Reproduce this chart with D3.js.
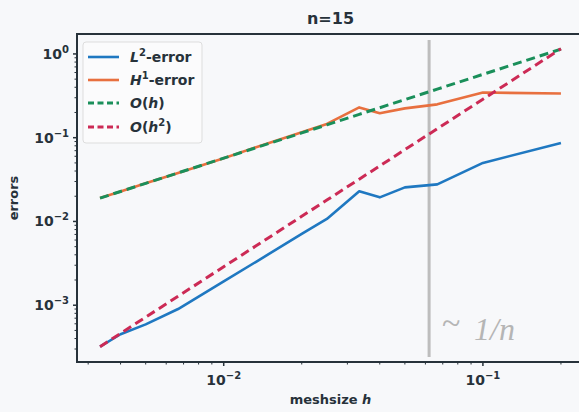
<html lang="en">
<head>
<meta charset="utf-8">
<title>n=15</title>
<script src="https://d3js.org/d3.v7.min.js"></script>
<style>
  body { margin: 0; background: #f7f8fa; }
  text { font-family: "DejaVu Sans", sans-serif; fill: #27323a; }
  .tick-label { font-size: 14px; font-weight: bold; }
  .label { font-size: 13px; font-weight: bold; }
  .legend text { font-size: 14px; font-weight: bold; }
</style>
</head>
<body>
<script>
// mesh sizes h = 1/N
var hValues = [1/300, 1/250, 1/200, 1/150, 1/100, 1/75, 1/50, 1/40, 1/30, 1/25, 1/20, 1/15, 1/10, 1/5];
var l2Error = [3.2e-4, 4.5e-4, 5.9e-4, 9.0e-4, 1.93e-3, 3.3e-3, 7.1e-3, 0.0107, 0.0229, 0.0194, 0.0255, 0.0277, 0.050, 0.0865];
var h1Error = [0.019, 0.0228, 0.0285, 0.038, 0.057, 0.077, 0.116, 0.146, 0.23, 0.196, 0.224, 0.25, 0.346, 0.337];
var orderH = [0.019, 0.0228, 0.0285, 0.038, 0.057, 0.076, 0.114, 0.1425, 0.19, 0.228, 0.285, 0.38, 0.57, 1.14];
var orderH2 = [3.2e-4, 4.61e-4, 7.2e-4, 1.28e-3, 2.88e-3, 5.12e-3, 0.01152, 0.018, 0.032, 0.046, 0.072, 0.128, 0.288, 1.152];
var markH = 0.062; // hand-drawn line near 1/n

var series = [
  {name: "L2", values: l2Error, color: "#1f78c1", dash: null, width: 2.6},
  {name: "H1", values: h1Error, color: "#e8703f", dash: null, width: 2.6},
  {name: "Oh", values: orderH, color: "#1a8f5a", dash: "9,5", width: 3},
  {name: "Oh2", values: orderH2, color: "#cc2a55", dash: "9,5", width: 3}
];

var W = 579, H = 412;
var pL = 77, pR = 584, pT = 34, pB = 362;

var svg = d3.select("body").append("svg")
  .attr("width", W).attr("height", H);

var x = d3.scaleLog().domain([Math.pow(10, -2.566), Math.pow(10, -0.61)]).range([pL, pR]);
var y = d3.scaleLog().domain([Math.pow(10, -3.678), Math.pow(10, 0.238)]).range([pB, pT]);

var plot = svg.append("g");
plot.append("clipPath").attr("id", "clip")
  .append("rect").attr("x", pL).attr("y", pT).attr("width", pR - pL).attr("height", pB - pT);

// gray hand-drawn marker line
plot.append("line")
  .attr("x1", x(markH)).attr("x2", x(markH))
  .attr("y1", 40).attr("y2", 357)
  .attr("stroke", "#bdbdbd").attr("stroke-width", 3);

var line = d3.line()
  .x(function(d, i) { return x(hValues[i]); })
  .y(function(d) { return y(d); });

series.forEach(function(s) {
  plot.append("path")
    .attr("clip-path", "url(#clip)")
    .attr("d", line(s.values))
    .attr("fill", "none")
    .attr("stroke", s.color)
    .attr("stroke-width", s.width)
    .attr("stroke-dasharray", s.dash)
    .attr("stroke-linejoin", "round");
});

// handwritten note
svg.append("text").attr("x", 442).attr("y", 334)
  .style("font-family", "Liberation Serif, serif").style("font-size", "34px").style("fill", "#b5b5b5")
  .text("~");
svg.append("text").attr("x", 474).attr("y", 340)
  .style("font-family", "Liberation Serif, serif").style("font-style", "italic")
  .style("font-size", "32px").style("fill", "#b5b5b5")
  .text("1/n");

// spines
svg.append("path")
  .attr("d", "M" + W + "," + pT + "H" + pL + "V" + pB + "H" + W)
  .attr("fill", "none").attr("stroke", "#27323a").attr("stroke-width", 2);

function isMajor(v) {
  var l = Math.log10(v);
  return Math.abs(l - Math.round(l)) < 1e-6;
}

function sup(sel, exp) {
  sel.append("tspan").text("10");
  sel.append("tspan").attr("dy", -6).style("font-size", "10px").text(exp);
}

// x ticks
x.ticks().forEach(function(v) {
  var px = x(v);
  if (px > W) return;
  var len = isMajor(v) ? 4 : 2.5;
  svg.append("line").attr("x1", px).attr("x2", px)
    .attr("y1", pB).attr("y2", pB + len)
    .attr("stroke", "#27323a").attr("stroke-width", isMajor(v) ? 1.5 : 1);
  if (isMajor(v)) {
    var t = svg.append("text").attr("class", "tick-label")
      .attr("x", px).attr("y", pB + 23).attr("text-anchor", "middle");
    sup(t, String(Math.round(Math.log10(v))).replace("-", "\u2212"));
  }
});

// y ticks
y.ticks().forEach(function(v) {
  var py = y(v);
  var len = isMajor(v) ? 4 : 2.5;
  svg.append("line").attr("x1", pL - len).attr("x2", pL)
    .attr("y1", py).attr("y2", py)
    .attr("stroke", "#27323a").attr("stroke-width", isMajor(v) ? 1.5 : 1);
  if (isMajor(v)) {
    var t = svg.append("text").attr("class", "tick-label")
      .attr("x", pL - 8).attr("y", py + 5).attr("text-anchor", "end");
    sup(t, String(Math.round(Math.log10(v))).replace("-", "\u2212"));
  }
});

// title and axis labels
svg.append("text").attr("class", "label").attr("x", (pL + pR) / 2).attr("y", 24)
  .attr("text-anchor", "middle").style("font-size", "16px").text("n=15");

var xl = svg.append("text").attr("class", "label")
  .attr("x", (pL + pR) / 2).attr("y", 404).attr("text-anchor", "middle");
xl.append("tspan").text("meshsize ");
xl.append("tspan").style("font-style", "italic").text("h");

svg.append("text").attr("class", "label")
  .attr("transform", "translate(18," + ((pT + pB) / 2) + ") rotate(-90)")
  .attr("text-anchor", "middle").text("errors");

// legend
var legend = svg.append("g").attr("class", "legend");
legend.append("rect").attr("x", 83).attr("y", 42).attr("width", 119).attr("height", 101)
  .attr("rx", 3).attr("fill", "#fbfbfc").attr("fill-opacity", 0.9)
  .attr("stroke", "#dddddd");

var legendRows = [
  {s: series[0], y: 57, parts: [["L", true], ["2", false, true], ["-error", false]]},
  {s: series[1], y: 80, parts: [["H", true], ["1", false, true], ["-error", false]]},
  {s: series[2], y: 103, parts: [["O", true], ["(", false], ["h", true], [")", false]]},
  {s: series[3], y: 127, parts: [["O", true], ["(", false], ["h", true], ["2", false, true], [")", false]]}
];

legendRows.forEach(function(r) {
  legend.append("line").attr("x1", 88).attr("x2", 119).attr("y1", r.y).attr("y2", r.y)
    .attr("stroke", r.s.color).attr("stroke-width", r.s.width)
    .attr("stroke-dasharray", r.s.dash ? "6,3.5" : null);
  var t = legend.append("text").attr("x", 130).attr("y", r.y + 5);
  var raised = false;
  r.parts.forEach(function(p) {
    var ts = t.append("tspan").text(p[0]);
    if (p[1]) ts.style("font-style", "italic");
    if (p[2]) { ts.attr("dy", -6).style("font-size", "10px"); raised = true; }
    else if (raised) { ts.attr("dy", 6); raised = false; }
  });
});
</script>
</body>
</html>
